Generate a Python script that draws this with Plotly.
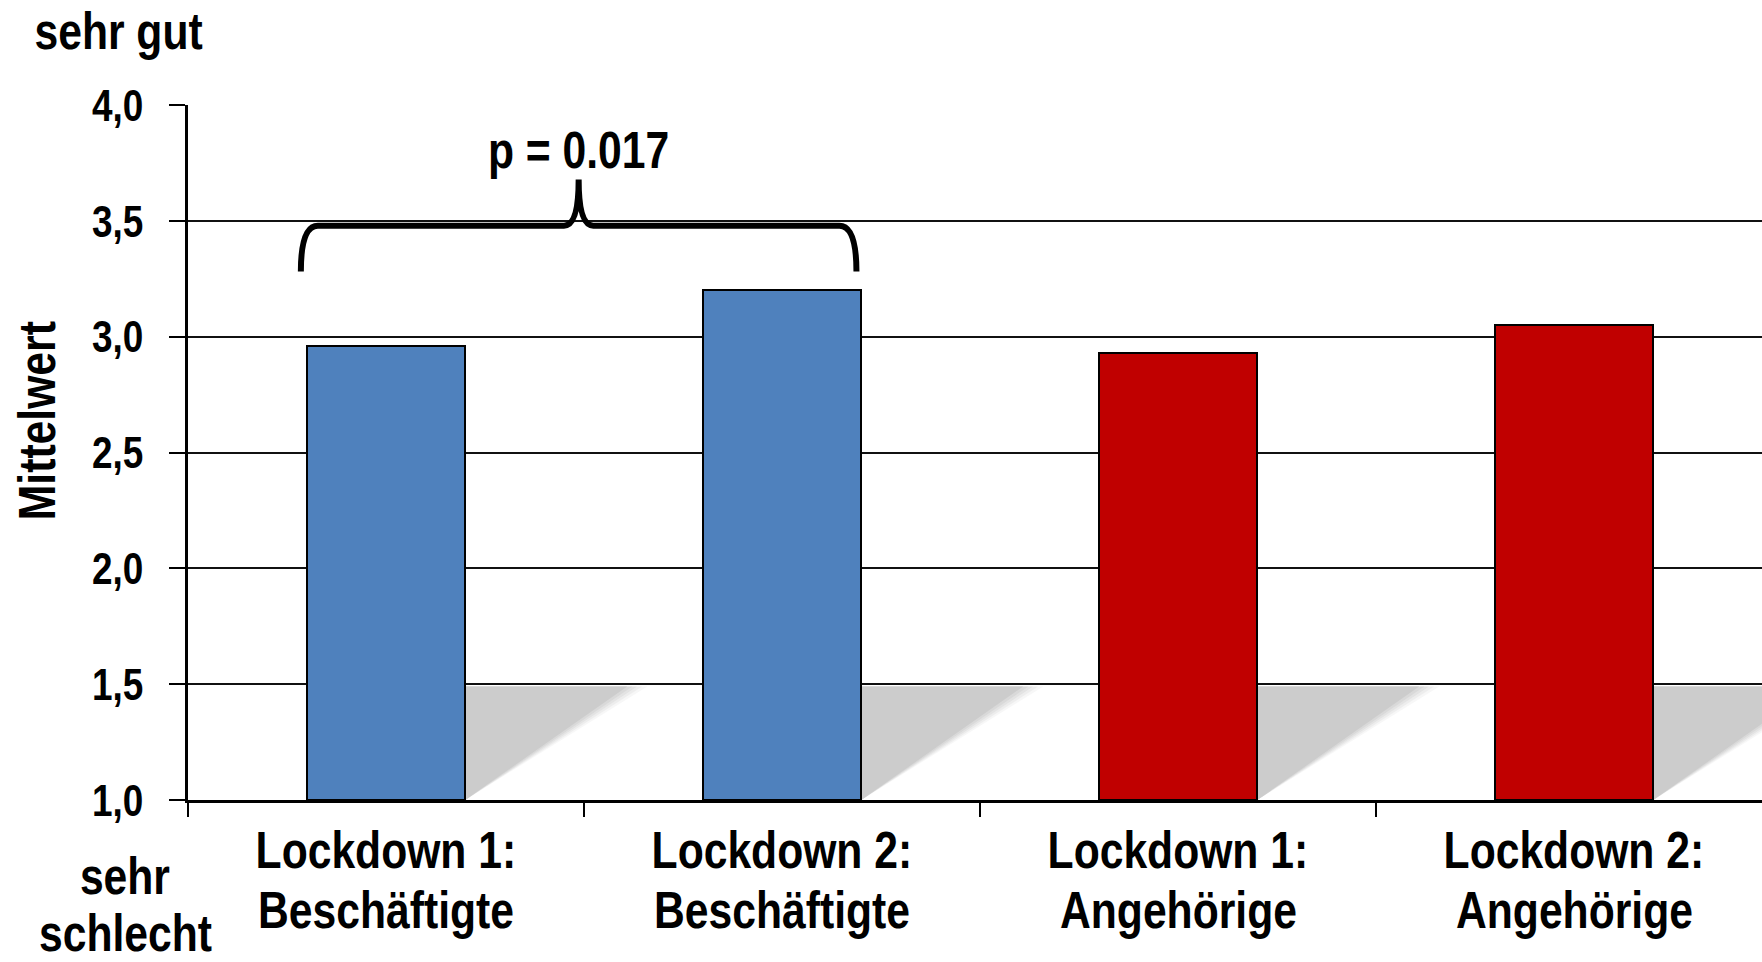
import plotly.graph_objects as go

# Mean ratings per group (scale 1 = sehr schlecht ... 4 = sehr gut)
categories = [
    "Lockdown 1: Beschäftigte",
    "Lockdown 2: Beschäftigte",
    "Lockdown 1: Angehörige",
    "Lockdown 2: Angehörige",
]
label_line1 = ["Lockdown 1:", "Lockdown 2:", "Lockdown 1:", "Lockdown 2:"]
label_line2 = ["Beschäftigte", "Beschäftigte", "Angehörige", "Angehörige"]
means = [2.96, 3.20, 2.93, 3.05]
bar_colors = ["#4f81bd", "#4f81bd", "#c00000", "#c00000"]
y_ticks = [1.0, 1.5, 2.0, 2.5, 3.0, 3.5, 4.0]
y_tick_text = ["1,0", "1,5", "2,0", "2,5", "3,0", "3,5", "4,0"]
p_label = "p = 0.017"

FONT = "Liberation Sans, Arial, sans-serif"
W, H = 1762, 962
ML, MT, MB = 188, 105, 162
CAT_PX = 396  # width of one category slot in pixels
BAR_W = 0.4
PLOT_TOP, PLOT_BOTTOM = MT, H - MB

x_max = -0.5 + (W - ML) / CAT_PX

fig = go.Figure()
fig.add_trace(go.Bar(
    x=categories,
    y=[m - 1.0 for m in means],
    base=1.0,
    width=BAR_W,
    marker=dict(color=bar_colors, line=dict(color="black", width=2)),
    showlegend=False,
    hoverinfo="skip",
))

shapes = []
# soft drop shadows to the lower right of every bar
for i in range(len(categories)):
    xr = i + BAR_W / 2
    for extra, col in [(0.045, "rgba(204,204,204,0.15)"),
                       (0.032, "rgba(204,204,204,0.22)"),
                       (0.019, "rgba(204,204,204,0.32)"),
                       (0.007, "rgba(204,204,204,0.45)"),
                       (-0.006, "#cccccc")]:
        tip = xr + 0.415 + extra
        shapes.append(dict(
            type="path", xref="x", yref="y", layer="below",
            path=f"M {xr},1.49 L {tip},1.49 L {xr},1.0 Z",
            fillcolor=col, line=dict(width=0),
        ))

# curly brace spanning the two "Beschäftigte" bars
xl = 0 - 0.215
xr = 1 + 0.188
xc = (xl + xr) / 2
yb, yh, yp = 3.281, 3.479, 3.678
hx, px = 0.043, 0.037
brace = (
    f"M {xl},{yb} Q {xl},{yh} {xl + hx},{yh} "
    f"L {xc - px},{yh} Q {xc},{yh} {xc},{yp} "
    f"Q {xc},{yh} {xc + px},{yh} "
    f"L {xr - hx},{yh} Q {xr},{yh} {xr},{yb}"
)
shapes.append(dict(type="path", xref="x", yref="y", layer="above",
                   path=brace, line=dict(color="black", width=6)))

big = dict(family=FONT, size=52, color="black", weight="bold")


def note(text, x, y, xref="paper", yref="paper", xshift=0, yshift=0, **kw):
    return dict(text=text, x=x, y=y, xref=xref, yref=yref, xshift=xshift,
                yshift=yshift, xanchor="center", yanchor="middle",
                showarrow=False, font=big, **kw)


annotations = []
for i in range(len(categories)):
    annotations.append(note(label_line1[i], i, 0, xref="x", yshift=-(850 - PLOT_BOTTOM)))
    annotations.append(note(label_line2[i], i, 0, xref="x", yshift=-(910 - PLOT_BOTTOM)))

annotations += [
    note(p_label, xc, yp, xref="x", yref="y", yshift=30),
    note("sehr gut", 0, 1, xshift=118 - ML, yshift=PLOT_TOP - 31),
    note("sehr", 0, 0, xshift=125 - ML, yshift=-(876 - PLOT_BOTTOM)),
    note("schlecht", 0, 0, xshift=125 - ML, yshift=-(933 - PLOT_BOTTOM)),
    note("Mittelwert", 0, 0.5, xshift=37 - ML,
         yshift=(PLOT_TOP + PLOT_BOTTOM) / 2 - 421, textangle=-90),
]

fig.update_layout(
    width=W, height=H, autosize=False,
    margin=dict(l=ML, r=0, t=MT, b=MB, pad=0),
    paper_bgcolor="white", plot_bgcolor="white",
    shapes=shapes, annotations=annotations,
    bargap=0,
)
fig.update_xaxes(
    type="category", categoryorder="array", categoryarray=categories,
    range=[-0.5, x_max], tickson="boundaries",
    showticklabels=False, ticks="outside", ticklen=14, tickwidth=2, tickcolor="black",
    showline=True, linecolor="black", linewidth=3, showgrid=False, zeroline=False,
)
fig.update_yaxes(
    range=[1.0, 4.0], tickvals=y_ticks, ticktext=y_tick_text,
    ticks="outside", ticklen=16, tickwidth=2, tickcolor="black",
    ticklabelstandoff=17,
    tickfont=dict(family=FONT, size=45, color="black", weight="bold"),
    showline=True, linecolor="black", linewidth=2.5,
    showgrid=True, gridcolor="#111111", gridwidth=2.2, zeroline=False,
)

# narrow (condensed) rendering of all labels: squeeze glyphs horizontally
condense_js = """
(function () {
  var gd = document.getElementById('{plot_id}');
  function condense() {
    var nodes = gd.querySelectorAll('text.annotation-text, g.ytick text');
    nodes.forEach(function (t) {
      t.removeAttribute('textLength');
      t.removeAttribute('lengthAdjust');
      var len = t.getComputedTextLength();
      if (len > 0) {
        t.setAttribute('lengthAdjust', 'spacingAndGlyphs');
        t.setAttribute('textLength', (len * 0.82).toFixed(2));
      }
    });
  }
  condense();
  if (gd && gd.on) { gd.on('plotly_afterplot', condense); }
  setTimeout(condense, 30);
})();
"""

fig.write_html("out.html", post_script=condense_js)
